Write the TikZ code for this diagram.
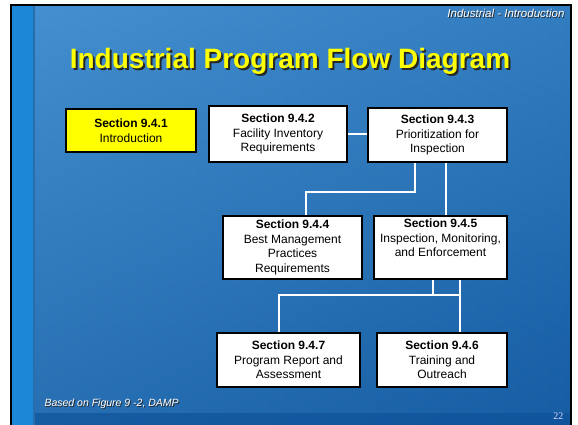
\documentclass[tikz,border=0pt]{standalone}
\usepackage{fontspec}
\setmainfont{Liberation Sans}
\newfontfamily\numfont{Liberation Serif}
\usepackage{tikz}

\definecolor{bgleft}{RGB}{68,144,208}
\definecolor{bgright}{RGB}{32,106,176}
\definecolor{bgbottom}{RGB}{12,80,150}
\definecolor{stripe}{RGB}{28,135,213}
\definecolor{stripeedge}{RGB}{40,110,175}
\definecolor{titleyellow}{RGB}{255,255,0}

% text with a dark drop shadow
\newcommand{\shadowed}[2]{\makebox[0pt][l]{\hspace{#1}\raisebox{-#1}{\color{black!85}#2}}#2}

\begin{document}
\begin{tikzpicture}[
		x=1pt, y=-1pt,
		box/.style={rectangle,draw=black,line width=2pt,fill=white,align=center,
			font=\fontsize{12}{14.5}\selectfont,inner sep=1pt},
		link/.style={draw=white,line width=1.4pt}]

		% slide background
		\useasboundingbox (0,0) rectangle (578,425);
		\fill[white] (0,0) rectangle (578,425);
		\shade[left color=bgleft, right color=bgright] (11,5) rectangle (571,425);
		\shade[top color=bgleft, bottom color=bgbottom, opacity=0.5] (11,5) rectangle (571,425);
		\fill[bgbottom, opacity=0.6] (11,413) rectangle (571,425);
		\fill[stripe] (12,5) rectangle (33,425);
		\fill[stripeedge] (33,5) rectangle (35,425);
		\draw[line width=2pt] (11,430) -- (11,5) -- (571,5) -- (571,430);

		% headings
		\node[anchor=east, text=white, font=\fontsize{11.5}{13}\selectfont\itshape] (hdr) at (568,14) {\shadowed{0.8pt}{Industrial - Introduction}};
		\node[text=titleyellow, font=\fontsize{28}{32}\selectfont\bfseries] (title) at (290,62) {\shadowed{2pt}{Industrial Program Flow Diagram}};

		% sections
		\node[box, fill=titleyellow, minimum width=130, minimum height=43] (s941) at (131,130.5) {\textbf{Section 9.4.1}\\Introduction};
		\node[box, minimum width=138, minimum height=56] (s942) at (278,134) {\textbf{Section 9.4.2}\\Facility Inventory\\Requirements};
		\node[box, minimum width=139, minimum height=54] (s943) at (437.5,135) {\textbf{Section 9.4.3}\\Prioritization for\\Inspection};
		\node[box, minimum width=139, minimum height=63] (s944) at (292.5,247.5) {\textbf{Section 9.4.4}\\Best Management\\Practices\\Requirements};
		\node[box, minimum width=133, minimum height=63] (s945) at (440.5,247.5) {\textbf{Section 9.4.5}\\Inspection, Monitoring,\\and Enforcement\\\strut};
		\node[box, minimum width=143, minimum height=54] (s947) at (288.5,360) {\textbf{Section 9.4.7}\\Program Report and\\Assessment};
		\node[box, minimum width=130, minimum height=54] (s946) at (442,360) {\textbf{Section 9.4.6}\\Training and\\Outreach};

		% connections
		\draw[link] (s942.east) -- (s942.east -| s943.west);
		\draw[link] ([xshift=-22.5pt]s943.south) -- ++(0,29) -| ([xshift=13.5pt]s944.north);
		\draw[link] ([xshift=8.5pt]s943.south) -- ([xshift=8.5pt]s943.south |- s945.north);
		\draw[link] ([xshift=-7.5pt]s945.south) -- ++(0,15);
		\draw[link] ([xshift=19.5pt]s945.south) -- ([xshift=19.5pt]s945.south |- s946.north);
		\draw[link] ([xshift=-9.5pt]s947.north) |- ([xshift=19.5pt]s945.south |- 0,295);

		% footer
		\node[anchor=west, text=white, font=\fontsize{10.5}{12}\selectfont\itshape] (src) at (41,404) {\shadowed{0.8pt}{Based on Figure 9 -2, DAMP}};
		\node[anchor=east, text=white!85!blue, font=\numfont\fontsize{10}{11}\selectfont] (pg) at (567,416) {22};

\end{tikzpicture}
\end{document}
